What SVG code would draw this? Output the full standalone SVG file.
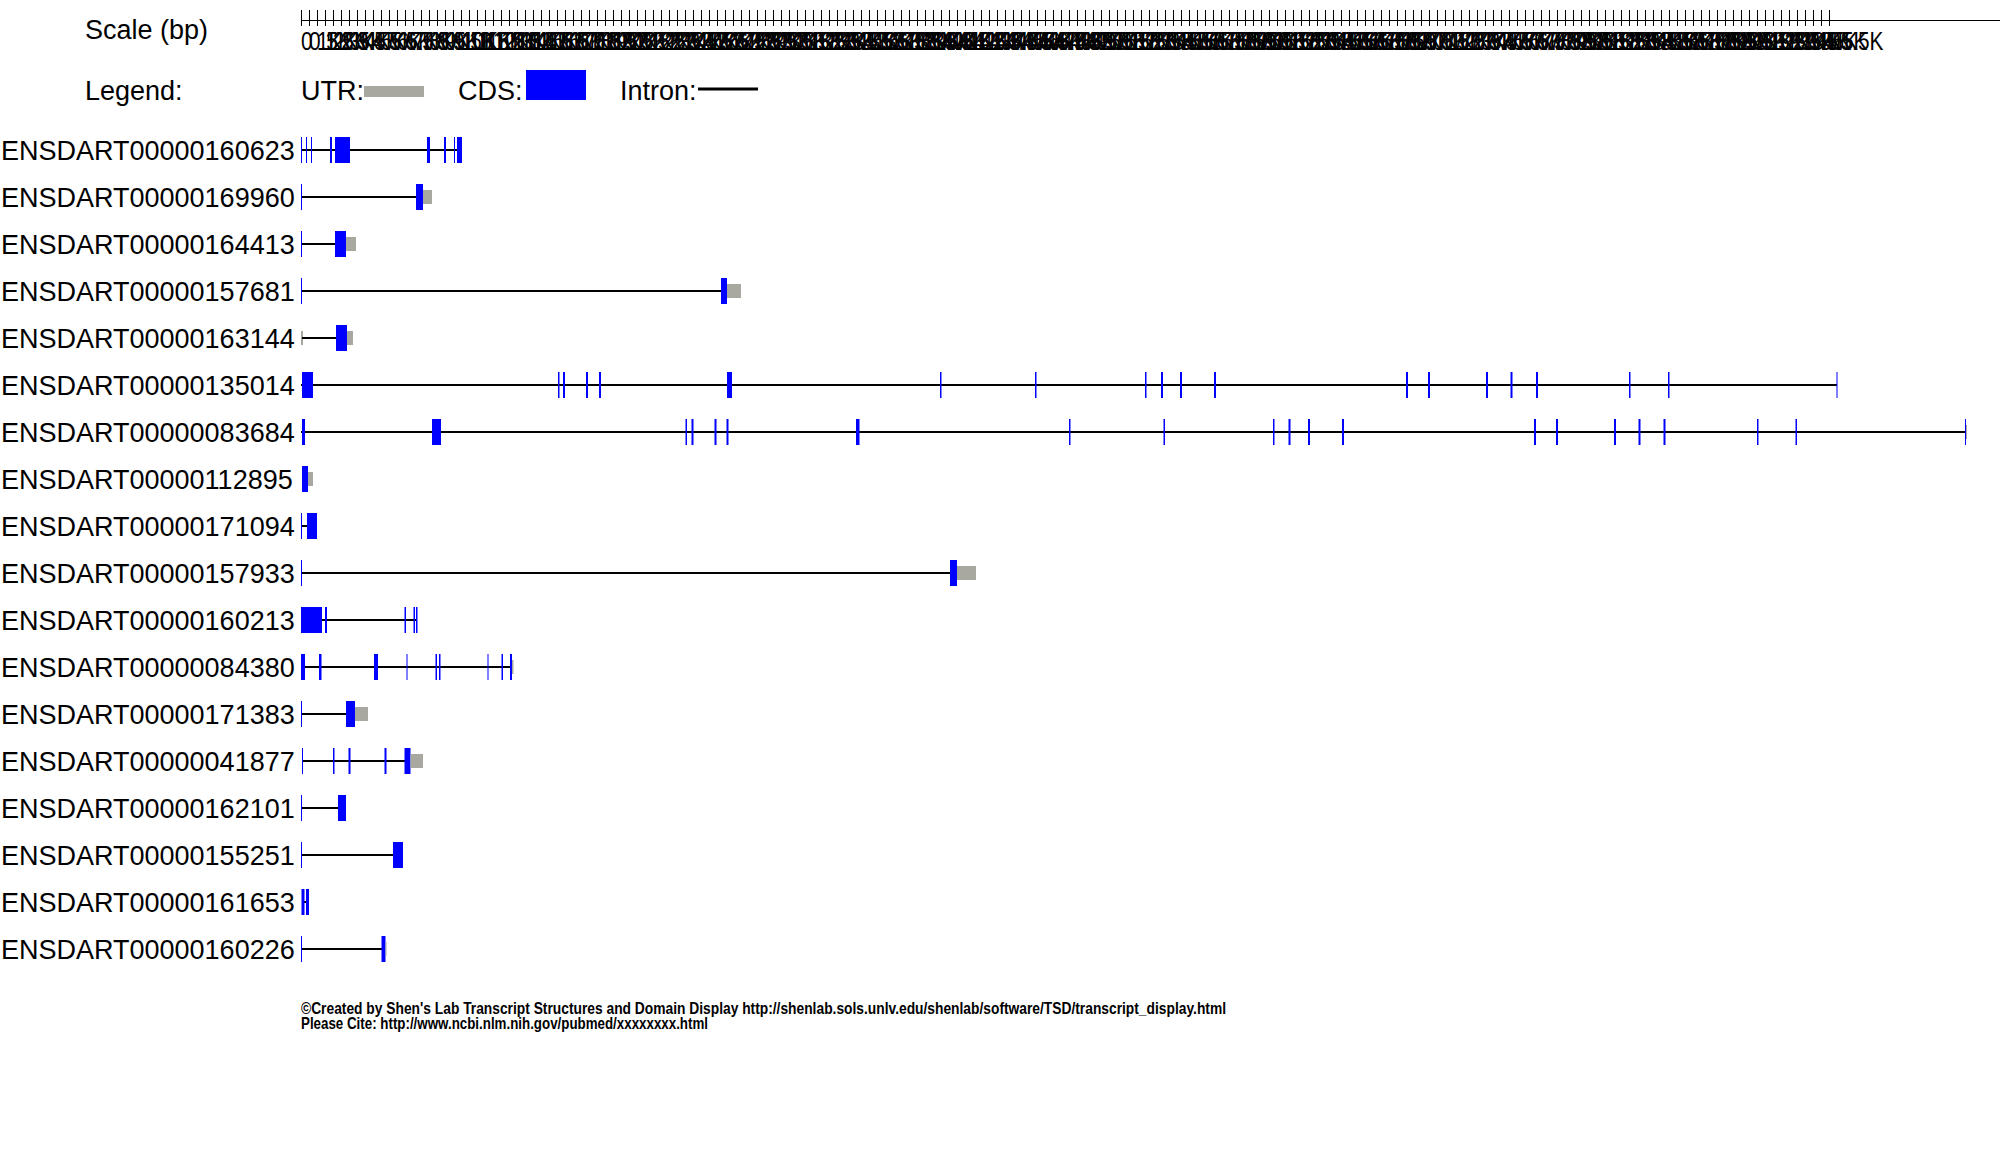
<svg xmlns="http://www.w3.org/2000/svg" width="2000" height="1176" viewBox="0 0 2000 1176">
<style>
.t{font-family:"Liberation Sans",Arial,sans-serif;font-size:27px;fill:#000}
.c{fill:#0000ff}
.u{fill:#a8a8a0}
.i{stroke:#000;stroke-width:2}
.sc{font-family:"Liberation Sans",Arial,sans-serif;font-size:26px;fill:#000}
.ft{font-family:"Liberation Sans",Arial,sans-serif;font-size:17px;font-weight:bold;fill:#000}
</style>
<defs>
<pattern id="ticks" patternUnits="userSpaceOnUse" x="301" y="10" width="8" height="16">
<rect x="0" y="0" width="1" height="16" fill="#000"/>
</pattern>
</defs>
<rect width="2000" height="1176" fill="#fff"/>

<g id="scale">
<text class="t" x="85" y="39">Scale (bp)</text>
<rect x="301" y="10" width="1530" height="16" fill="url(#ticks)"/>
<line x1="301" y1="20.5" x2="2000" y2="20.5" stroke="#000" stroke-width="1"/>
<g transform="translate(301,50) scale(0.8,1)">
<text class="sc" y="0"><tspan x="0">0</tspan><tspan x="10">0.5K</tspan><tspan x="20">1K</tspan><tspan x="30">1.5K</tspan><tspan x="40">2K</tspan><tspan x="50">2.5K</tspan><tspan x="60">3K</tspan><tspan x="70">3.5K</tspan><tspan x="80">4K</tspan><tspan x="90">4.5K</tspan><tspan x="100">5K</tspan><tspan x="110">5.5K</tspan><tspan x="120">6K</tspan><tspan x="130">6.5K</tspan><tspan x="140">7K</tspan><tspan x="150">7.5K</tspan><tspan x="160">8K</tspan><tspan x="170">8.5K</tspan><tspan x="180">9K</tspan><tspan x="190">9.5K</tspan><tspan x="200">10K</tspan><tspan x="210">10.5K</tspan><tspan x="220">11K</tspan><tspan x="230">11.5K</tspan><tspan x="240">12K</tspan><tspan x="250">12.5K</tspan><tspan x="260">13K</tspan><tspan x="270">13.5K</tspan><tspan x="280">14K</tspan><tspan x="290">14.5K</tspan><tspan x="300">15K</tspan><tspan x="310">15.5K</tspan><tspan x="320">16K</tspan><tspan x="330">16.5K</tspan><tspan x="340">17K</tspan><tspan x="350">17.5K</tspan><tspan x="360">18K</tspan><tspan x="370">18.5K</tspan><tspan x="380">19K</tspan><tspan x="390">19.5K</tspan><tspan x="400">20K</tspan><tspan x="410">20.5K</tspan><tspan x="420">21K</tspan><tspan x="430">21.5K</tspan><tspan x="440">22K</tspan><tspan x="450">22.5K</tspan><tspan x="460">23K</tspan><tspan x="470">23.5K</tspan><tspan x="480">24K</tspan><tspan x="490">24.5K</tspan><tspan x="500">25K</tspan><tspan x="510">25.5K</tspan><tspan x="520">26K</tspan><tspan x="530">26.5K</tspan><tspan x="540">27K</tspan><tspan x="550">27.5K</tspan><tspan x="560">28K</tspan><tspan x="570">28.5K</tspan><tspan x="580">29K</tspan><tspan x="590">29.5K</tspan><tspan x="600">30K</tspan><tspan x="610">30.5K</tspan><tspan x="620">31K</tspan><tspan x="630">31.5K</tspan><tspan x="640">32K</tspan><tspan x="650">32.5K</tspan><tspan x="660">33K</tspan><tspan x="670">33.5K</tspan><tspan x="680">34K</tspan><tspan x="690">34.5K</tspan><tspan x="700">35K</tspan><tspan x="710">35.5K</tspan><tspan x="720">36K</tspan><tspan x="730">36.5K</tspan><tspan x="740">37K</tspan><tspan x="750">37.5K</tspan><tspan x="760">38K</tspan><tspan x="770">38.5K</tspan><tspan x="780">39K</tspan><tspan x="790">39.5K</tspan><tspan x="800">40K</tspan><tspan x="810">40.5K</tspan><tspan x="820">41K</tspan><tspan x="830">41.5K</tspan><tspan x="840">42K</tspan><tspan x="850">42.5K</tspan><tspan x="860">43K</tspan><tspan x="870">43.5K</tspan><tspan x="880">44K</tspan><tspan x="890">44.5K</tspan><tspan x="900">45K</tspan><tspan x="910">45.5K</tspan><tspan x="920">46K</tspan><tspan x="930">46.5K</tspan><tspan x="940">47K</tspan><tspan x="950">47.5K</tspan><tspan x="960">48K</tspan><tspan x="970">48.5K</tspan><tspan x="980">49K</tspan><tspan x="990">49.5K</tspan><tspan x="1000">50K</tspan><tspan x="1010">50.5K</tspan><tspan x="1020">51K</tspan><tspan x="1030">51.5K</tspan><tspan x="1040">52K</tspan><tspan x="1050">52.5K</tspan><tspan x="1060">53K</tspan><tspan x="1070">53.5K</tspan><tspan x="1080">54K</tspan><tspan x="1090">54.5K</tspan><tspan x="1100">55K</tspan><tspan x="1110">55.5K</tspan><tspan x="1120">56K</tspan><tspan x="1130">56.5K</tspan><tspan x="1140">57K</tspan><tspan x="1150">57.5K</tspan><tspan x="1160">58K</tspan><tspan x="1170">58.5K</tspan><tspan x="1180">59K</tspan><tspan x="1190">59.5K</tspan><tspan x="1200">60K</tspan><tspan x="1210">60.5K</tspan><tspan x="1220">61K</tspan><tspan x="1230">61.5K</tspan><tspan x="1240">62K</tspan><tspan x="1250">62.5K</tspan><tspan x="1260">63K</tspan><tspan x="1270">63.5K</tspan><tspan x="1280">64K</tspan><tspan x="1290">64.5K</tspan><tspan x="1300">65K</tspan><tspan x="1310">65.5K</tspan><tspan x="1320">66K</tspan><tspan x="1330">66.5K</tspan><tspan x="1340">67K</tspan><tspan x="1350">67.5K</tspan><tspan x="1360">68K</tspan><tspan x="1370">68.5K</tspan><tspan x="1380">69K</tspan><tspan x="1390">69.5K</tspan><tspan x="1400">70K</tspan><tspan x="1410">70.5K</tspan><tspan x="1420">71K</tspan><tspan x="1430">71.5K</tspan><tspan x="1440">72K</tspan><tspan x="1450">72.5K</tspan><tspan x="1460">73K</tspan><tspan x="1470">73.5K</tspan><tspan x="1480">74K</tspan><tspan x="1490">74.5K</tspan><tspan x="1500">75K</tspan><tspan x="1510">75.5K</tspan><tspan x="1520">76K</tspan><tspan x="1530">76.5K</tspan><tspan x="1540">77K</tspan><tspan x="1550">77.5K</tspan><tspan x="1560">78K</tspan><tspan x="1570">78.5K</tspan><tspan x="1580">79K</tspan><tspan x="1590">79.5K</tspan><tspan x="1600">80K</tspan><tspan x="1610">80.5K</tspan><tspan x="1620">81K</tspan><tspan x="1630">81.5K</tspan><tspan x="1640">82K</tspan><tspan x="1650">82.5K</tspan><tspan x="1660">83K</tspan><tspan x="1670">83.5K</tspan><tspan x="1680">84K</tspan><tspan x="1690">84.5K</tspan><tspan x="1700">85K</tspan><tspan x="1710">85.5K</tspan><tspan x="1720">86K</tspan><tspan x="1730">86.5K</tspan><tspan x="1740">87K</tspan><tspan x="1750">87.5K</tspan><tspan x="1760">88K</tspan><tspan x="1770">88.5K</tspan><tspan x="1780">89K</tspan><tspan x="1790">89.5K</tspan><tspan x="1800">90K</tspan><tspan x="1810">90.5K</tspan><tspan x="1820">91K</tspan><tspan x="1830">91.5K</tspan><tspan x="1840">92K</tspan><tspan x="1850">92.5K</tspan><tspan x="1860">93K</tspan><tspan x="1870">93.5K</tspan><tspan x="1880">94K</tspan><tspan x="1890">94.5K</tspan><tspan x="1900">95K</tspan><tspan x="1910">95.5K</tspan></text>
</g>
</g>

<g id="legend">
<text class="t" x="85" y="100">Legend:</text>
<text class="t" x="301" y="100">UTR:</text>
<rect class="u" x="364" y="86" width="60" height="11"/>
<text class="t" x="458" y="100">CDS:</text>
<rect class="c" x="526" y="70" width="60" height="30"/>
<text class="t" x="620" y="100">Intron:</text>
<line x1="698" y1="89" x2="758" y2="89" stroke="#000" stroke-width="3"/>
</g>

<g id="connectors"></g>

<g id="ENSDART00000160623" transform="translate(0,150)">
<text class="t" x="1" y="10">ENSDART00000160623</text>
<line class="i" x1="301" y1="0" x2="461" y2="0"/>
<rect class="c" x="301" y="-13" width="1" height="26"/>
<rect class="c" x="306" y="-13" width="1" height="26"/>
<rect class="c" x="311" y="-13" width="1" height="26"/>
<rect class="c" x="330" y="-13" width="2" height="26"/>
<rect class="c" x="335" y="-13" width="15" height="26"/>
<rect class="c" x="427" y="-13" width="3" height="26"/>
<rect class="c" x="444" y="-13" width="2" height="26"/>
<rect class="c" x="454" y="-13" width="1" height="26"/>
<rect class="c" x="457" y="-13" width="5" height="26"/>
</g>

<g id="ENSDART00000169960" transform="translate(0,197)">
<text class="t" x="1" y="10">ENSDART00000169960</text>
<line class="i" x1="301" y1="0" x2="417" y2="0"/>
<rect class="c" x="301" y="-13" width="1" height="26"/>
<rect class="c" x="416" y="-13" width="7" height="26"/>
<rect class="u" x="423" y="-7" width="9" height="14"/>
</g>

<g id="ENSDART00000164413" transform="translate(0,244)">
<text class="t" x="1" y="10">ENSDART00000164413</text>
<line class="i" x1="301" y1="0" x2="335" y2="0"/>
<rect class="c" x="301" y="-13" width="1" height="26"/>
<rect class="c" x="335" y="-13" width="11" height="26"/>
<rect class="u" x="346" y="-7" width="10" height="14"/>
</g>

<g id="ENSDART00000157681" transform="translate(0,291)">
<text class="t" x="1" y="10">ENSDART00000157681</text>
<line class="i" x1="301" y1="0" x2="721" y2="0"/>
<rect class="c" x="301" y="-13" width="1" height="26"/>
<rect class="c" x="721" y="-13" width="6" height="26"/>
<rect class="u" x="727" y="-7" width="14" height="14"/>
</g>

<g id="ENSDART00000163144" transform="translate(0,338)">
<text class="t" x="1" y="10">ENSDART00000163144</text>
<rect class="u" x="301" y="-7" width="2" height="14"/>
<line class="i" x1="302" y1="0" x2="336" y2="0"/>
<rect class="c" x="336" y="-13" width="11" height="26"/>
<rect class="u" x="347" y="-7" width="6" height="14"/>
</g>

<g id="ENSDART00000135014" transform="translate(0,385)">
<text class="t" x="1" y="10">ENSDART00000135014</text>
<line class="i" x1="301" y1="0" x2="1837" y2="0"/>
<rect class="c" x="302" y="-13" width="11" height="26"/>
<rect class="c" x="558" y="-13" width="1.5" height="26"/>
<rect class="c" x="563" y="-13" width="2" height="26"/>
<rect class="c" x="586" y="-13" width="2" height="26"/>
<rect class="c" x="599" y="-13" width="2" height="26"/>
<rect class="c" x="727" y="-13" width="5" height="26"/>
<rect class="c" x="940" y="-13" width="1.5" height="26"/>
<rect class="c" x="1035" y="-13" width="1.5" height="26"/>
<rect class="c" x="1145" y="-13" width="1.5" height="26"/>
<rect class="c" x="1161" y="-13" width="2" height="26"/>
<rect class="c" x="1180" y="-13" width="2" height="26"/>
<rect class="c" x="1214" y="-13" width="2" height="26"/>
<rect class="c" x="1406" y="-13" width="2" height="26"/>
<rect class="c" x="1428" y="-13" width="2" height="26"/>
<rect class="c" x="1486" y="-13" width="2" height="26"/>
<rect class="c" x="1510.5" y="-13" width="2" height="26"/>
<rect class="c" x="1536" y="-13" width="2" height="26"/>
<rect class="c" x="1629" y="-13" width="1.5" height="26"/>
<rect class="c" x="1668" y="-13" width="1.5" height="26"/>
<rect class="c" x="1836.5" y="-13" width="1" height="26"/>
</g>

<g id="ENSDART00000083684" transform="translate(0,432)">
<text class="t" x="1" y="10">ENSDART00000083684</text>
<line class="i" x1="301" y1="0" x2="1966" y2="0"/>
<rect class="c" x="302" y="-13" width="3" height="26"/>
<rect class="c" x="432" y="-13" width="9" height="26"/>
<rect class="c" x="685.5" y="-13" width="1.5" height="26"/>
<rect class="c" x="691.5" y="-13" width="2" height="26"/>
<rect class="c" x="714.5" y="-13" width="2" height="26"/>
<rect class="c" x="726.5" y="-13" width="2" height="26"/>
<rect class="c" x="856" y="-13" width="3.5" height="26"/>
<rect class="c" x="1069" y="-13" width="1.5" height="26"/>
<rect class="c" x="1163.5" y="-13" width="1.5" height="26"/>
<rect class="c" x="1273" y="-13" width="1.5" height="26"/>
<rect class="c" x="1288.5" y="-13" width="2" height="26"/>
<rect class="c" x="1308" y="-13" width="2" height="26"/>
<rect class="c" x="1342" y="-13" width="2" height="26"/>
<rect class="c" x="1534" y="-13" width="2" height="26"/>
<rect class="c" x="1556" y="-13" width="2" height="26"/>
<rect class="c" x="1614" y="-13" width="2" height="26"/>
<rect class="c" x="1638.5" y="-13" width="2" height="26"/>
<rect class="c" x="1663.5" y="-13" width="2" height="26"/>
<rect class="c" x="1757" y="-13" width="1.5" height="26"/>
<rect class="c" x="1795.5" y="-13" width="1.5" height="26"/>
<rect class="c" x="1965" y="-13" width="1" height="26"/>
<rect class="u" x="1966" y="-7" width="1" height="14"/>
</g>

<g id="ENSDART00000112895" transform="translate(0,479)">
<text class="t" x="1" y="10">ENSDART00000112895</text>
<rect class="c" x="302" y="-13" width="6" height="26"/>
<rect class="u" x="308" y="-7" width="5" height="14"/>
</g>

<g id="ENSDART00000171094" transform="translate(0,526)">
<text class="t" x="1" y="10">ENSDART00000171094</text>
<line class="i" x1="301" y1="0" x2="307" y2="0"/>
<rect class="c" x="301" y="-13" width="1" height="26"/>
<rect class="c" x="307" y="-13" width="10" height="26"/>
</g>

<g id="ENSDART00000157933" transform="translate(0,573)">
<text class="t" x="1" y="10">ENSDART00000157933</text>
<line class="i" x1="301" y1="0" x2="950" y2="0"/>
<rect class="c" x="301" y="-13" width="1" height="26"/>
<rect class="c" x="950" y="-13" width="7" height="26"/>
<rect class="u" x="957" y="-7" width="19" height="14"/>
</g>

<g id="ENSDART00000160213" transform="translate(0,620)">
<text class="t" x="1" y="10">ENSDART00000160213</text>
<line class="i" x1="301" y1="0" x2="417" y2="0"/>
<rect class="c" x="301" y="-13" width="21" height="26"/>
<rect class="c" x="325" y="-13" width="2" height="26"/>
<rect class="c" x="404.5" y="-13" width="1.5" height="26"/>
<rect class="c" x="413.5" y="-13" width="1.5" height="26"/>
<rect class="c" x="416" y="-13" width="1.5" height="26"/>
</g>

<g id="ENSDART00000084380" transform="translate(0,667)">
<text class="t" x="1" y="10">ENSDART00000084380</text>
<line class="i" x1="301" y1="0" x2="513" y2="0"/>
<rect class="c" x="301" y="-13" width="4" height="26"/>
<rect class="c" x="319" y="-13" width="2.5" height="26"/>
<rect class="c" x="374" y="-13" width="4" height="26"/>
<rect class="c" x="406.5" y="-13" width="1" height="26"/>
<rect class="c" x="435.5" y="-13" width="1.5" height="26"/>
<rect class="c" x="439" y="-13" width="1.5" height="26"/>
<rect class="c" x="487.5" y="-13" width="1" height="26"/>
<rect class="c" x="501.5" y="-13" width="1.5" height="26"/>
<rect class="c" x="510" y="-13" width="2" height="26"/>
<rect class="u" x="512" y="-7" width="1.5" height="14"/>
</g>

<g id="ENSDART00000171383" transform="translate(0,714)">
<text class="t" x="1" y="10">ENSDART00000171383</text>
<line class="i" x1="301" y1="0" x2="346" y2="0"/>
<rect class="c" x="301" y="-13" width="1" height="26"/>
<rect class="c" x="346" y="-13" width="9" height="26"/>
<rect class="u" x="355" y="-7" width="13" height="14"/>
</g>

<g id="ENSDART00000041877" transform="translate(0,761)">
<text class="t" x="1" y="10">ENSDART00000041877</text>
<line class="i" x1="302" y1="0" x2="405" y2="0"/>
<rect class="c" x="302" y="-13" width="1" height="26"/>
<rect class="c" x="333" y="-13" width="1.5" height="26"/>
<rect class="c" x="348.5" y="-13" width="2" height="26"/>
<rect class="c" x="384.5" y="-13" width="2" height="26"/>
<rect class="c" x="404.5" y="-13" width="6" height="26"/>
<rect class="u" x="410.5" y="-7" width="12.5" height="14"/>
</g>

<g id="ENSDART00000162101" transform="translate(0,808)">
<text class="t" x="1" y="10">ENSDART00000162101</text>
<line class="i" x1="301" y1="0" x2="338" y2="0"/>
<rect class="c" x="301" y="-13" width="1" height="26"/>
<rect class="c" x="338" y="-13" width="8" height="26"/>
</g>

<g id="ENSDART00000155251" transform="translate(0,855)">
<text class="t" x="1" y="10">ENSDART00000155251</text>
<line class="i" x1="301" y1="0" x2="393" y2="0"/>
<rect class="c" x="301" y="-13" width="1" height="26"/>
<rect class="c" x="393" y="-13" width="10" height="26"/>
</g>

<g id="ENSDART00000161653" transform="translate(0,902)">
<text class="t" x="1" y="10">ENSDART00000161653</text>
<line class="i" x1="304" y1="0" x2="307" y2="0"/>
<rect class="c" x="301.5" y="-13" width="3" height="26"/>
<rect class="c" x="306" y="-13" width="3" height="26"/>
</g>

<g id="ENSDART00000160226" transform="translate(0,949)">
<text class="t" x="1" y="10">ENSDART00000160226</text>
<line class="i" x1="301" y1="0" x2="382" y2="0"/>
<rect class="c" x="301" y="-13" width="1" height="26"/>
<rect class="c" x="381.5" y="-13" width="4" height="26"/>
<rect class="u" x="385.5" y="-7" width="1" height="14"/>
</g>

<g id="footer">
<text class="ft" x="301" y="1014" textLength="925" lengthAdjust="spacingAndGlyphs">©Created by Shen's Lab Transcript Structures and Domain Display http://shenlab.sols.unlv.edu/shenlab/software/TSD/transcript_display.html</text>
<text class="ft" x="301" y="1029" textLength="407" lengthAdjust="spacingAndGlyphs">Please Cite: http://www.ncbi.nlm.nih.gov/pubmed/xxxxxxxx.html</text>
</g>
</svg>
